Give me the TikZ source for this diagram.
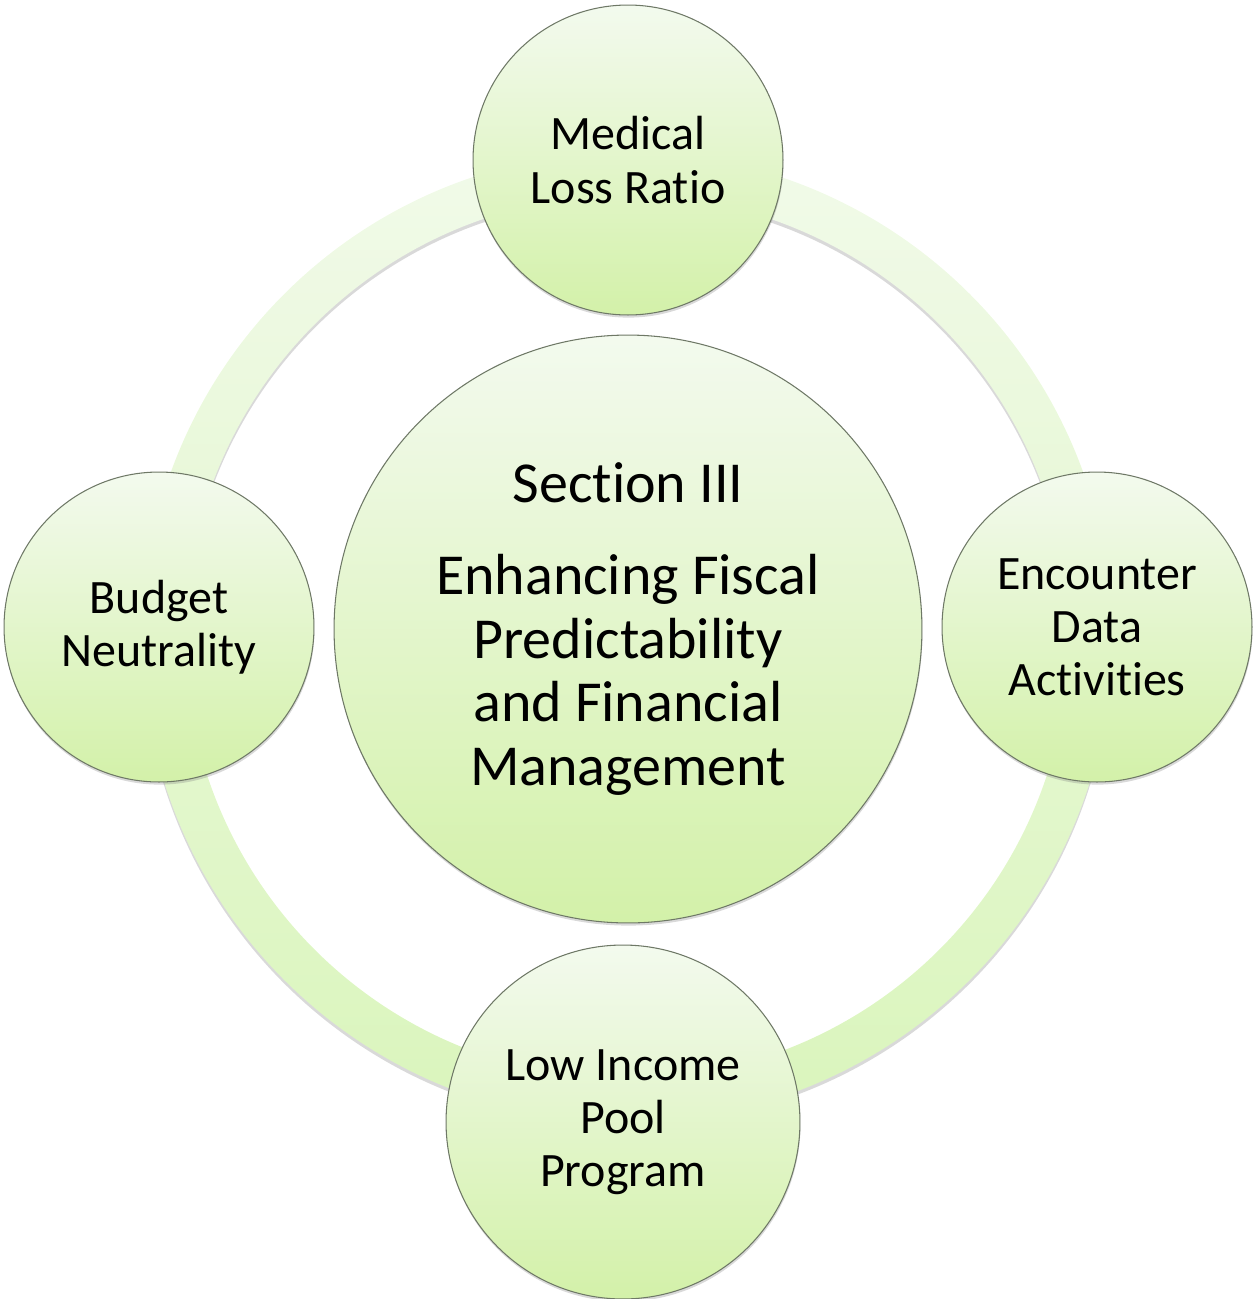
\documentclass[tikz,border=0pt]{standalone}
\usepackage{fontspec}
\setmainfont{Carlito}[Ligatures={NoCommon}]
\usetikzlibrary{shadows}
\definecolor{circtop}{HTML}{F3FAEE}
\definecolor{circbot}{HTML}{D3F1A9}
\definecolor{ringtop}{HTML}{F1FAE9}
\definecolor{ringbot}{HTML}{DAF5BC}
\definecolor{circline}{HTML}{6E7866}
\tikzset{
  hubcircle/.style={
    circle,
    draw=circline,
    line width=0.6pt,
    top color=circtop,
    bottom color=circbot,
    drop shadow={opacity=0.3, shadow xshift=0.3pt, shadow yshift=-1.5pt},
    align=center,
    inner sep=0pt,
    minimum size=11.76cm,
    font=\fontsize{33}{36.4}\selectfont
  },
  spokecircle/.style={
    hubcircle,
    minimum size=6.2cm,
    font=\fontsize{27.3}{30.2}\selectfont
  }
}

\begin{document}
\begin{tikzpicture}[x=0.02cm, y=-0.02cm]
    \useasboundingbox (0,0) rectangle (1257,1299);

    % ring behind the circles
    \coordinate (ringc) at (627,637);
    \fill [black, opacity=0.15, even odd rule]
      ([yshift=-2pt]ringc) circle [radius=9.7cm] ([yshift=-2pt]ringc) circle [radius=8.84cm];
    \shade [top color=ringtop, bottom color=ringbot, even odd rule]
      (ringc) circle [radius=9.7cm] (ringc) circle [radius=8.84cm];

    \node [hubcircle] (finance) at (628,629)
      {Section III\\[16pt]Enhancing Fiscal\\Predictability\\and Financial\\Management};

    \node [spokecircle] (mlr) at (628,160) {Medical\\Loss Ratio};
    \node [spokecircle] (encounter) at (1097,627) {Encounter\\Data\\Activities};
    \node [spokecircle, minimum size=7.08cm] (lip) at (623,1122) {Low Income\\Pool\\Program};
    \node [spokecircle] (budget) at (159,627) {Budget\\Neutrality};
\end{tikzpicture}
\end{document}
